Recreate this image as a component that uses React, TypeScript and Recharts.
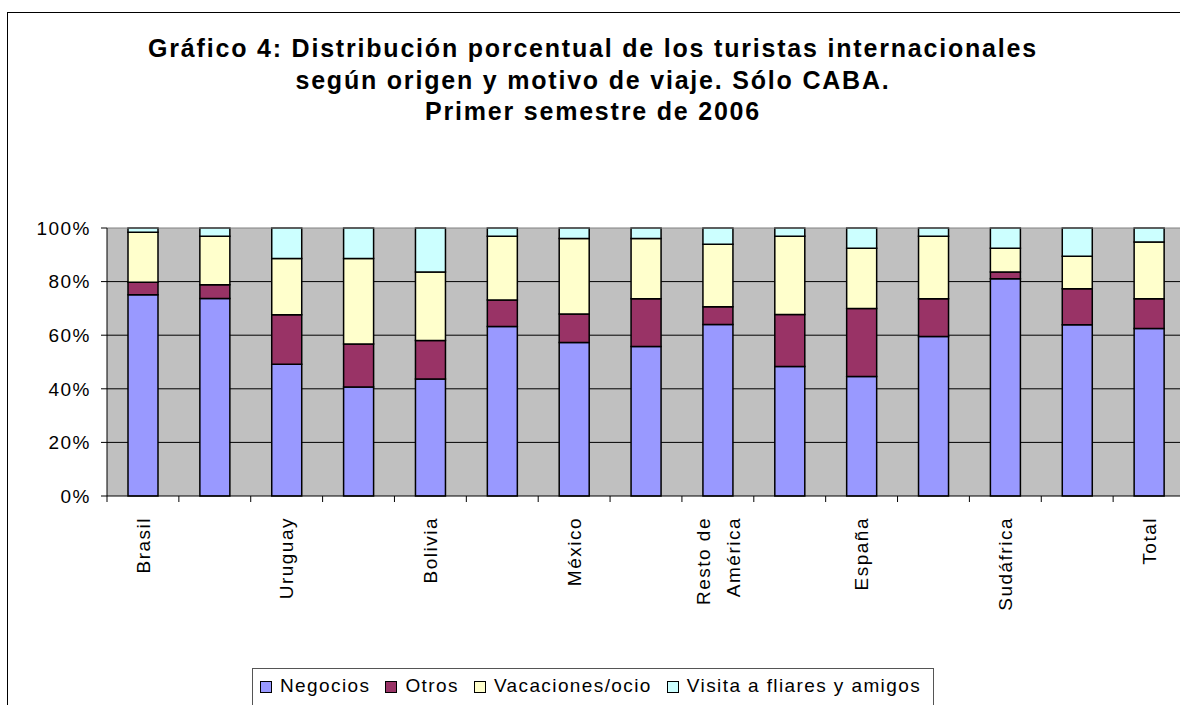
import { Bar, BarChart, CartesianGrid, ReferenceLine, XAxis, YAxis } from "recharts";

// origin of the tourists; the original only prints every other label
const origins = [
  "Brasil",
  "Chile",
  "Uruguay",
  "Paraguay",
  "Bolivia",
  "EE.UU. y Canadá",
  "México",
  "Perú",
  "Resto de América",
  "Italia",
  "España",
  "Resto de Europa",
  "Sudáfrica",
  "Resto del mundo",
  "Total",
];

// shares in %
const negocios = [75.1, 73.7, 49.2, 40.7, 43.7, 63.2, 57.3, 55.8, 64.0, 48.3, 44.6, 59.5, 81.1, 63.9, 62.5];
const otros = [4.7, 5.1, 18.4, 16.0, 14.3, 9.9, 10.6, 17.8, 6.6, 19.4, 25.4, 14.1, 2.5, 13.4, 11.1];
const vacaciones = [18.6, 18.1, 21.0, 31.9, 25.6, 23.8, 28.2, 22.5, 23.3, 29.2, 22.4, 23.3, 8.8, 12.2, 21.2];
const visita = [1.6, 3.1, 11.4, 11.4, 16.4, 3.1, 3.9, 3.9, 6.1, 3.1, 7.6, 3.1, 7.6, 10.5, 5.2];

const yTicks = [0, 0.2, 0.4, 0.6, 0.8, 1];
const gridValues = [0.2, 0.4, 0.6, 0.8];

const series = [
  { key: "negocios", name: "Negocios", color: "#9999FF" },
  { key: "otros", name: "Otros", color: "#993366" },
  { key: "vacaciones", name: "Vacaciones/ocio", color: "#FFFFCC" },
  { key: "visita", name: "Visita a fliares y amigos", color: "#CCFFFF" },
];

const titleLines = [
  "Gráfico 4: Distribución porcentual de los turistas internacionales",
  "según origen y motivo de viaje. Sólo CABA.",
  "Primer semestre de 2006",
];

const data = origins.map((origin, i) => ({
  origin,
  negocios: negocios[i],
  otros: otros[i],
  vacaciones: vacaciones[i],
  visita: visita[i],
}));

const FONT = '"Liberation Sans", Arial, sans-serif';

function splitLabel(label: string) {
  const cut = label.lastIndexOf(" ");
  if (label.length > 10 && cut > 0) return [label.slice(0, cut), label.slice(cut + 1)];
  return [label];
}

function OriginTick(props: any) {
  const { x, y, payload, index } = props;
  const half = payload?.offset ?? 36;
  const lines = splitLabel(String(payload.value));
  return (
    <g>
      <line x1={x - half} x2={x - half} y1={y} y2={y + 6} stroke="#000" strokeWidth={1} />
      {index % 2 === 0 && (
        <text
          transform={`translate(${x},${y + 21}) rotate(-90)`}
          textAnchor="end"
          fontSize={19}
          letterSpacing={1.5}
          fontFamily={FONT}
          fill="#000"
        >
          {lines.map((line, i) => (
            <tspan key={i} x={0} y={(i - (lines.length - 1) / 2) * 30} dy="0.35em">
              {line}
            </tspan>
          ))}
        </text>
      )}
    </g>
  );
}

export default function App() {
  return (
    <div
      style={{
        position: "fixed",
        left: 0,
        top: 0,
        width: 1180,
        height: 705,
        overflow: "hidden",
        background: "#fff",
        fontFamily: FONT,
      }}
    >
      <div
        style={{
          position: "absolute",
          left: 7,
          top: 12,
          width: 1300,
          height: 800,
          borderLeft: "1px solid #000",
          borderTop: "1px solid #000",
        }}
      />

      <div
        style={{
          position: "absolute",
          left: 0,
          top: 33,
          width: 1186,
          textAlign: "center",
          fontWeight: "bold",
          fontSize: 25,
          lineHeight: "31.5px",
          letterSpacing: 1.8,
          color: "#000",
        }}
      >
        {titleLines.map((line) => (
          <div key={line}>{line}</div>
        ))}
      </div>

      <div style={{ position: "absolute", left: 0, top: 0 }}>
        <BarChart width={1200} height={705} data={data} margin={{ top: 228, right: 15, left: 0, bottom: 0 }} stackOffset="expand">
          <CartesianGrid vertical={false} stroke="#000" fill="#C0C0C0" fillOpacity={1} horizontalValues={gridValues} />
          <ReferenceLine y={1} stroke="#808080" />
          <XAxis
            dataKey="origin"
            interval={0}
            height={209}
            tickSize={0}
            tickMargin={0}
            tickLine={false}
            axisLine={{ stroke: "#000" }}
            tick={<OriginTick />}
          />
          <YAxis
            width={107}
            domain={[0, 1]}
            ticks={yTicks}
            tickFormatter={(v: number) => `${Math.round(v * 100)}%`}
            tickSize={6}
            tickMargin={10}
            axisLine={{ stroke: "#000" }}
            tickLine={{ stroke: "#000" }}
            tick={{ fill: "#000", fontSize: 19, fontFamily: FONT, letterSpacing: 1.5 }}
          />
          {series.map((s) => (
            <Bar
              key={s.key}
              dataKey={s.key}
              name={s.name}
              stackId="a"
              fill={s.color}
              stroke="#000"
              strokeWidth={1.5}
              barSize={30}
              isAnimationActive={false}
            />
          ))}
        </BarChart>
      </div>

      <div
        style={{
          position: "absolute",
          left: 252,
          top: 668,
          height: 60,
          border: "1px solid #555",
          display: "flex",
          alignItems: "flex-start",
          padding: "6px 12px 0 7px",
          fontSize: 19,
          lineHeight: "22px",
          letterSpacing: 1.4,
          color: "#000",
          whiteSpace: "nowrap",
        }}
      >
        {series.map((s, i) => (
          <div key={s.key} style={{ display: "flex", alignItems: "center", marginRight: i === series.length - 1 ? 0 : 15 }}>
            <span
              style={{
                display: "inline-block",
                width: 10,
                height: 10,
                border: "1px solid #000",
                background: s.color,
                marginRight: 8,
                marginTop: 2,
              }}
            />
            <span>{s.name}</span>
          </div>
        ))}
      </div>
    </div>
  );
}
